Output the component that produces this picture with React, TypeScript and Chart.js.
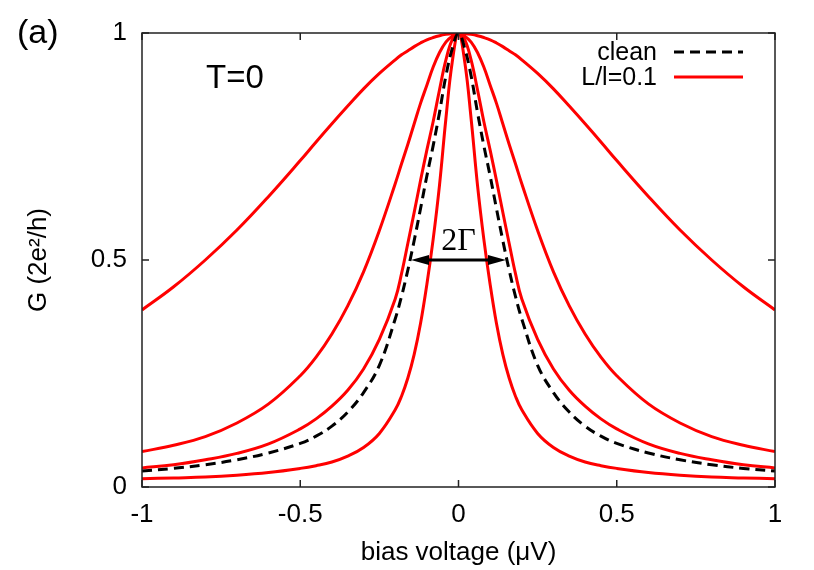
import React, { useEffect, useRef } from "react";
import { Chart, registerables } from "chart.js";

Chart.register(...registerables);

// ---- data ----
const biasVoltage = [
  -1, -0.9, -0.8, -0.7, -0.6, -0.5, -0.45, -0.4, -0.35, -0.3, -0.25, -0.2, -0.18, -0.16, -0.14, -0.12, -0.1, -0.08, -0.06, -0.04, -0.02,
  0,
  0.02, 0.04, 0.06, 0.08, 0.1, 0.12, 0.14, 0.16, 0.18, 0.2, 0.25, 0.3, 0.35, 0.4, 0.45, 0.5, 0.6, 0.7, 0.8, 0.9, 1,
];

const cleanG = [
  0.035, 0.041, 0.049, 0.06, 0.075, 0.096, 0.112, 0.134, 0.165, 0.208, 0.268, 0.37, 0.42, 0.478, 0.543, 0.613, 0.685, 0.752, 0.825, 0.905, 0.965,
  1,
  0.965, 0.905, 0.825, 0.752, 0.685, 0.613, 0.543, 0.478, 0.42, 0.37, 0.268, 0.208, 0.165, 0.134, 0.112, 0.096, 0.075, 0.06, 0.049, 0.041, 0.035,
];

const disorderNarrowG = [
  0.018, 0.02, 0.022, 0.026, 0.032, 0.041, 0.047, 0.055, 0.068, 0.087, 0.118, 0.17, 0.2, 0.24, 0.292, 0.36, 0.446, 0.546, 0.665, 0.81, 0.935,
  1,
  0.935, 0.81, 0.665, 0.546, 0.446, 0.36, 0.292, 0.24, 0.2, 0.17, 0.118, 0.087, 0.068, 0.055, 0.047, 0.041, 0.032, 0.026, 0.022, 0.02, 0.018,
];

const disorderMidG = [
  0.042, 0.049, 0.06, 0.074, 0.095, 0.128, 0.15, 0.178, 0.213, 0.26, 0.325, 0.414, 0.47, 0.537, 0.605, 0.675, 0.742, 0.805, 0.875, 0.94, 0.985,
  1,
  0.985, 0.94, 0.875, 0.805, 0.742, 0.675, 0.605, 0.537, 0.47, 0.414, 0.325, 0.26, 0.213, 0.178, 0.15, 0.128, 0.095, 0.074, 0.06, 0.049, 0.042,
];

const disorderBroadG = [
  0.078, 0.092, 0.111, 0.141, 0.183, 0.245, 0.286, 0.337, 0.399, 0.474, 0.565, 0.668, 0.712, 0.755, 0.8, 0.845, 0.885, 0.925, 0.957, 0.98, 0.993,
  1,
  0.993, 0.98, 0.957, 0.925, 0.885, 0.845, 0.8, 0.755, 0.712, 0.668, 0.565, 0.474, 0.399, 0.337, 0.286, 0.245, 0.183, 0.141, 0.111, 0.092, 0.078,
];

const disorderWidestG = [
  0.39, 0.441, 0.5, 0.566, 0.64, 0.719, 0.76, 0.8, 0.839, 0.877, 0.911, 0.941, 0.952, 0.961, 0.97, 0.978, 0.985, 0.99, 0.994, 0.997, 0.999,
  1,
  0.999, 0.997, 0.994, 0.99, 0.985, 0.978, 0.97, 0.961, 0.952, 0.941, 0.911, 0.877, 0.839, 0.8, 0.76, 0.719, 0.64, 0.566, 0.5, 0.441, 0.39,
];

const xTickValues = [-1, -0.5, 0, 0.5, 1];
const yTickValues = [0, 0.5, 1];
const legendLabels = ["clean", "L/l=0.1"];
const xTitle = "bias voltage (\u03bcV)";
const yTitle = "G (2e\u00b2/h)";
const arrowRange = [-0.15, 0.15];
const arrowLevel = 0.5;
const widthLabel = "2\u0393";
const tempLabel = "T=0";
const panelLabel = "(a)";

const SANS = "'Liberation Sans', Arial, Helvetica, sans-serif";
const SERIF = "'Liberation Serif', 'Times New Roman', serif";
const RED = "#ff0000";

export default function App() {
  const canvasRef = useRef<HTMLCanvasElement | null>(null);

  useEffect(() => {
    const canvas = canvasRef.current;
    if (!canvas) return;

    const pts = (ys: number[]) => biasVoltage.map((x, i) => ({ x, y: ys[i] }));

    const deco = {
      id: "deco",
      afterDatasetsDraw(chart: any) {
        const { ctx, chartArea: a, scales } = chart;
        const xs = scales.x;
        const ys = scales.y;
        ctx.save();
        // frame
        ctx.strokeStyle = "#222";
        ctx.lineWidth = 1.5;
        ctx.setLineDash([]);
        ctx.strokeRect(a.left, a.top, a.right - a.left, a.bottom - a.top);
        // inward ticks on all four sides
        ctx.beginPath();
        for (const v of xTickValues) {
          const px = xs.getPixelForValue(v);
          ctx.moveTo(px, a.bottom);
          ctx.lineTo(px, a.bottom - 7);
          ctx.moveTo(px, a.top);
          ctx.lineTo(px, a.top + 7);
        }
        for (const v of yTickValues) {
          const py = ys.getPixelForValue(v);
          ctx.moveTo(a.left, py);
          ctx.lineTo(a.left + 7, py);
          ctx.moveTo(a.right, py);
          ctx.lineTo(a.right - 7, py);
        }
        ctx.stroke();

        // double arrow 2Γ
        const x1 = xs.getPixelForValue(arrowRange[0]);
        const x2 = xs.getPixelForValue(arrowRange[1]);
        const py = ys.getPixelForValue(arrowLevel);
        const headL = 18;
        const headW = 5;
        ctx.strokeStyle = "#000";
        ctx.fillStyle = "#000";
        ctx.lineWidth = 3;
        ctx.beginPath();
        ctx.moveTo(x1 + headL - 2, py);
        ctx.lineTo(x2 - headL + 2, py);
        ctx.stroke();
        ctx.beginPath();
        ctx.moveTo(x1, py);
        ctx.lineTo(x1 + headL, py - headW);
        ctx.lineTo(x1 + headL, py + headW);
        ctx.closePath();
        ctx.fill();
        ctx.beginPath();
        ctx.moveTo(x2, py);
        ctx.lineTo(x2 - headL, py - headW);
        ctx.lineTo(x2 - headL, py + headW);
        ctx.closePath();
        ctx.fill();
        ctx.font = `32px ${SERIF}`;
        ctx.textAlign = "center";
        ctx.textBaseline = "alphabetic";
        ctx.fillText(widthLabel, (x1 + x2) / 2, py - 10);

        // T=0
        ctx.font = `33px ${SANS}`;
        ctx.textAlign = "left";
        ctx.fillText(tempLabel, a.left + 64, a.top + 55);

        // legend (gnuplot style: text, then sample)
        ctx.font = `25px ${SANS}`;
        ctx.textAlign = "right";
        const textRight = a.right - 118;
        const lineStart = a.right - 101;
        const lineEnd = a.right - 32;
        const rows = [a.top + 19, a.top + 44];
        ctx.fillStyle = "#000";
        ctx.fillText(legendLabels[0], textRight, rows[0] + 8);
        ctx.fillText(legendLabels[1], textRight, rows[1] + 8);
        ctx.lineWidth = 3;
        ctx.strokeStyle = "#000";
        ctx.setLineDash([10, 6]);
        ctx.beginPath();
        ctx.moveTo(lineStart, rows[0]);
        ctx.lineTo(lineEnd, rows[0]);
        ctx.stroke();
        ctx.setLineDash([]);
        ctx.strokeStyle = RED;
        ctx.beginPath();
        ctx.moveTo(lineStart, rows[1]);
        ctx.lineTo(lineEnd, rows[1]);
        ctx.stroke();

        // panel label
        ctx.fillStyle = "#000";
        ctx.font = `34px ${SANS}`;
        ctx.textAlign = "left";
        ctx.fillText(panelLabel, 17, 43);
        ctx.restore();
      },
    };

    const redLine = (label: string, ys: number[]) => ({
      label,
      data: pts(ys),
      borderColor: RED,
      borderWidth: 3,
      pointRadius: 0,
      fill: false,
      tension: 0.4,
    });

    const chart = new Chart(canvas, {
      type: "line",
      data: {
        datasets: [
          {
            label: legendLabels[0],
            data: pts(cleanG),
            borderColor: "#000",
            borderWidth: 3,
            borderDash: [10, 6],
            pointRadius: 0,
            fill: false,
            tension: 0.4,
          },
          redLine(legendLabels[1], disorderNarrowG),
          redLine(legendLabels[1], disorderMidG),
          redLine(legendLabels[1], disorderBroadG),
          redLine(legendLabels[1], disorderWidestG),
        ],
      },
      options: {
        animation: false,
        responsive: false,
        events: [],
        layout: { padding: { top: 33, right: 39, left: 0, bottom: 0 } },
        plugins: { legend: { display: false }, tooltip: { enabled: false } },
        scales: {
          x: {
            type: "linear",
            min: -1,
            max: 1,
            afterFit(s: any) {
              s.height = 83;
            },
            afterBuildTicks(s: any) {
              s.ticks = xTickValues.map((v) => ({ value: v }));
            },
            ticks: {
              font: { family: SANS, size: 26 },
              color: "#000",
              padding: 12,
              maxRotation: 0,
              autoSkip: false,
              callback: (v: any) => String(v),
            },
            grid: { display: false, drawTicks: false },
            border: { display: false },
            title: {
              display: true,
              text: xTitle,
              font: { family: SANS, size: 26 },
              color: "#000",
              padding: { top: 0, bottom: 2 },
            },
          },
          y: {
            type: "linear",
            min: 0,
            max: 1,
            afterFit(s: any) {
              s.width = 142;
            },
            afterBuildTicks(s: any) {
              s.ticks = yTickValues.map((v) => ({ value: v }));
            },
            ticks: {
              font: { family: SANS, size: 26 },
              color: "#000",
              padding: 15,
              autoSkip: false,
              callback: (v: any) => String(v),
            },
            grid: { display: false, drawTicks: false },
            border: { display: false },
            title: {
              display: true,
              text: yTitle,
              font: { family: SANS, size: 26 },
              color: "#000",
              padding: { top: 23, bottom: 0 },
            },
          },
        },
      },
      plugins: [deco],
    });

    return () => chart.destroy();
  }, []);

  return (
    <div style={{ position: "fixed", left: 0, top: 0, width: 814, height: 570, background: "#fff" }}>
      <canvas ref={canvasRef} width={814} height={570} style={{ display: "block" }} />
    </div>
  );
}
